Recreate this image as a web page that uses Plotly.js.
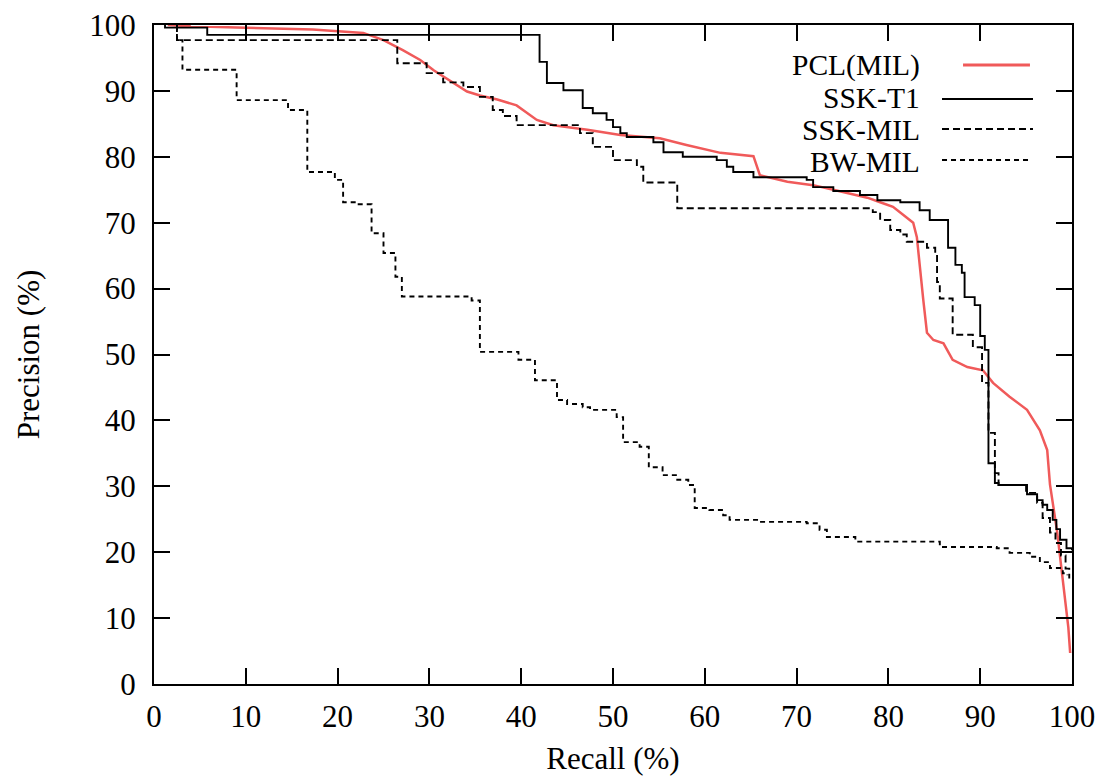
<!DOCTYPE html>
<html>
<head>
<meta charset="utf-8">
<script src="https://cdn.plot.ly/plotly-3.0.1.min.js"></script>
<style>html,body{margin:0;padding:0;background:#fff;}#chart{width:1107px;height:782px;}</style>
</head>
<body>
<div id="chart"></div>
<script>
// ---- Data ----
const seriesNames = ["PCL(MIL)", "SSK-T1", "SSK-MIL", "BW-MIL"];

// PCL(MIL): smooth curve
const pclRecall = [1.5, 4, 10, 17.3, 22.8, 25, 27.1, 29, 30.5, 32.6, 34.1, 35.5, 37.4, 39.5, 41.7, 43.5, 47.2, 50.8, 55.1, 58, 61.7, 65.3, 66, 69, 71.8, 74, 75.5, 77.7, 79.1, 80.5, 81.6, 82.7, 83.1, 83.4, 83.8, 84.2, 84.9, 86, 87, 88.6, 90.3, 91.4, 93.2, 95.1, 96.5, 97.3, 97.6, 98.4, 99.0, 99.6, 99.8];
const pclPrecision = [100, 99.8, 99.6, 99.3, 98.8, 97.7, 96.2, 94.7, 93.1, 91.2, 89.9, 89.3, 88.7, 87.8, 85.6, 84.8, 84.1, 83.3, 82.8, 81.8, 80.6, 80.1, 77.2, 76.2, 75.7, 75, 74.5, 73.8, 73.1, 72.4, 71.2, 70, 67.8, 63.3, 58.3, 53.3, 52.2, 51.7, 49.2, 48.1, 47.6, 45.7, 43.6, 41.6, 38.5, 35.5, 30.3, 22.9, 15.3, 8.6, 4.7];

// SSK-T1: step curve (recall where precision changes, precision after the step)
const t1Recall = [1.2, 1.2, 5.8, 42, 42.8, 44.6, 46.7, 47.8, 49.3, 50, 50.8, 51.5, 54.4, 55.5, 57.6, 61.3, 62.4, 63.1, 65.3, 71.1, 71.8, 74, 76.9, 78.8, 81.3, 83.4, 84.5, 86.5, 87.3, 88.0, 88.3, 89.4, 90.0, 90.5, 90.9, 91.6, 92, 95.1, 96.2, 96.8, 97.3, 97.9, 98.3, 98.7, 99.4, 100];
const t1Precision = [100, 99.6, 98.5, 94.4, 91.2, 90.1, 87.4, 86.6, 85.6, 84.5, 83.6, 83.0, 82.2, 80.7, 80.0, 79.5, 78.5, 77.7, 76.9, 76.5, 75.4, 74.8, 74.2, 73.4, 73.1, 71.9, 70.4, 66.2, 63.6, 62.4, 58.7, 57.5, 52.8, 50.7, 33.5, 30.5, 30.2, 28.8, 27.9, 27.2, 26.4, 24.9, 23.5, 21.9, 20.6, 20.3];

// SSK-MIL: step curve
const mRecall = [2.5, 2.5, 26.5, 29.7, 31.5, 33.7, 35.5, 36.9, 38, 39.5, 46.4, 47.8, 50, 52.6, 53.3, 57, 78.3, 79.1, 80.2, 81.3, 82, 84.2, 85.1, 85.3, 85.6, 87, 89.2, 90.2, 90.9, 91.6, 92, 95, 96.2, 96.8, 97.6, 98.2, 98.8, 99.3, 99.7];
const mPrecision = [100, 97.7, 94.2, 92.7, 91.3, 90.6, 89.1, 87.1, 86.2, 84.8, 83.6, 81.5, 79.5, 78.5, 76.1, 72.2, 71.6, 70.4, 68.9, 68.2, 67.1, 66.2, 65.4, 61, 58.5, 53, 51.1, 45.7, 38.1, 32, 30.2, 29, 27.5, 25.2, 23, 21.4, 19.5, 17.5, 16];

// BW-MIL: step curve
const bwRecall = [2.5, 2.5, 3.1, 9.0, 14.6, 16.7, 19.7, 20.6, 22.0, 23.7, 25, 26.3, 27, 34.6, 35.5, 39.7, 41.5, 43.9, 45, 46.7, 47.5, 50.4, 51.1, 52.9, 53.9, 55.4, 57, 58.2, 58.9, 60.5, 62, 62.7, 66, 71.1, 72.5, 73.3, 76.4, 85.6, 91.8, 93.2, 95.4, 96.5, 97.6, 99, 99.5];
const bwPrecision = [100, 97.7, 93.2, 88.6, 87.1, 77.7, 76.5, 73.1, 72.8, 68.4, 65.4, 61.8, 58.8, 58.2, 50.4, 49.2, 46.1, 43.1, 42.5, 42.0, 41.6, 40.5, 36.7, 36, 32.9, 31.7, 31.0, 30.2, 26.7, 26.4, 25.6, 24.9, 24.6, 24.4, 23.4, 22.3, 21.6, 20.8, 20.6, 19.9, 19.3, 18.5, 17.6, 16.8, 16.5];

const xTicks = [0, 10, 20, 30, 40, 50, 60, 70, 80, 90, 100];
const yTicks = [0, 10, 20, 30, 40, 50, 60, 70, 80, 90, 100];

// ---- Styles ----
const RED = '#f05a5a';
const FONT = 'Liberation Serif, Times New Roman, serif';
const FS = 31;
const LEGEND_FS = 29.5;
const styles = [
  {color: RED, width: 2.5, dash: 'solid', shape: 'linear'},
  {color: '#000', width: 1.9, dash: 'solid', shape: 'hv'},
  {color: '#000', width: 1.9, dash: '7px,4px', shape: 'hv'},
  {color: '#000', width: 1.9, dash: '5px,4px', shape: 'hv'}
];
const xs = [pclRecall, t1Recall, mRecall, bwRecall];
const ys = [pclPrecision, t1Precision, mPrecision, bwPrecision];

const traces = seriesNames.map((n, i) => ({
  type: 'scatter', mode: 'lines', name: n,
  x: xs[i], y: ys[i],
  line: {color: styles[i].color, width: styles[i].width, dash: styles[i].dash, shape: styles[i].shape},
  showlegend: false, hoverinfo: 'skip'
}));

// custom gnuplot-style legend: text right-aligned, sample to the right
const legendTextY = [0.9378, 0.8892, 0.8407, 0.7921];
const legendSampleY = [0.9393, 0.8877, 0.8422, 0.7951];
const annotations = seriesNames.map((n, i) => ({
  xref: 'paper', yref: 'paper', x: 0.8366, y: legendTextY[i],
  xanchor: 'right', yanchor: 'middle', text: n, showarrow: false,
  font: {family: FONT, size: LEGEND_FS, color: '#000'}
}));
const sampleX = [[0.8813, 0.9542], [0.8584, 0.9575], [0.8584, 0.9575], [0.8584, 0.9542]];
const shapes = seriesNames.map((n, i) => ({
  type: 'line', xref: 'paper', yref: 'paper',
  x0: sampleX[i][0], x1: sampleX[i][1], y0: legendSampleY[i], y1: legendSampleY[i],
  line: {color: styles[i].color, width: i === 0 ? 3 : styles[i].width, dash: styles[i].dash}
}));

const axisCommon = {
  range: [0, 100], showgrid: false, zeroline: false,
  showline: true, linecolor: '#000', linewidth: 2, mirror: 'ticks',
  ticks: 'inside', ticklen: 16, tickwidth: 2, tickcolor: '#000',
  tickfont: {family: FONT, size: FS, color: '#000'}
};

const layout = {
  width: 1107, height: 782,
  margin: {l: 154, r: 35, t: 25, b: 98, pad: 0},
  paper_bgcolor: '#fff', plot_bgcolor: '#fff',
  xaxis: Object.assign({}, axisCommon, {
    tickvals: xTicks, ticktext: xTicks.map(String), ticklabelstandoff: 4,
    title: {text: 'Recall (%)', font: {family: FONT, size: FS, color: '#000'}, standoff: 14}
  }),
  yaxis: Object.assign({}, axisCommon, {
    tickvals: yTicks, ticktext: yTicks.map(String), ticklabelstandoff: 10,
    title: {text: 'Precision (%)', font: {family: FONT, size: FS, color: '#000'}, standoff: 40}
  }),
  annotations: annotations,
  shapes: shapes,
  showlegend: false
};

Plotly.newPlot('chart', traces, layout, {staticPlot: true, displayModeBar: false});
</script>
</body>
</html>
